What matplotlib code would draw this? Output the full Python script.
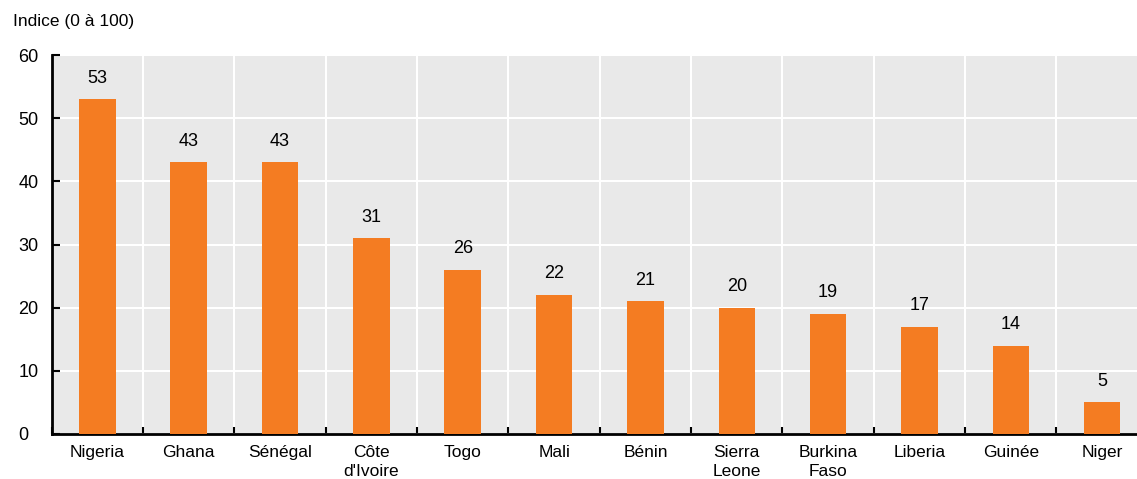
import matplotlib
matplotlib.use("Agg")
import matplotlib.pyplot as plt
import numpy as np

countries = ["Nigeria", "Ghana", "Sénégal", "Côte\nd'Ivoire", "Togo", "Mali",
             "Bénin", "Sierra\nLeone", "Burkina\nFaso", "Liberia", "Guinée", "Niger"]
values = [53, 43, 43, 31, 26, 22, 21, 20, 19, 17, 14, 5]
yticks = [0, 10, 20, 30, 40, 50, 60]

plt.rcParams['font.family'] = ['Liberation Sans', 'DejaVu Sans']
plt.rcParams['font.size'] = 12.5

fig = plt.figure(figsize=(11.37, 4.79), dpi=100)
ax = fig.add_axes([0.0455, 0.094, 0.964, 0.791])
ax.set_facecolor('#e9e9e9')

x = np.arange(len(countries))
ax.bar(x, values, width=0.4, color='#f47c22', zorder=3)
for xi, v in zip(x, values):
    ax.text(xi, v + 2.0, str(v), ha='center', va='bottom', fontsize=13)

ax.set_xlim(-0.5, len(countries) - 0.5)
ax.set_ylim(0, 60)
ax.set_yticks(yticks)
ax.set_xticks(x)
ax.set_xticklabels(countries, linespacing=1.3)
ax.set_xticks(np.arange(-0.5, len(countries)), minor=True)
ax.tick_params(axis='x', which='major', length=0, pad=8)
ax.tick_params(axis='x', which='minor', direction='in', length=5, width=1.5)
ax.tick_params(axis='y', direction='in', length=6, width=1.5, pad=24, labelsize=13)
for lbl in ax.get_yticklabels():
    lbl.set_horizontalalignment('left')

ax.grid(True, axis='y', color='white', linewidth=1.5, zorder=1)
ax.grid(True, axis='x', which='minor', color='white', linewidth=1.5, zorder=1)
ax.set_axisbelow(True)
for s in ['top', 'right']:
    ax.spines[s].set_visible(False)
ax.spines['left'].set_linewidth(2)
ax.spines['bottom'].set_linewidth(2)

fig.text(0.011, 0.955, "Indice (0 à 100)", fontsize=12.5, ha='left', va='center')

fig.savefig("out.png", dpi=100)
